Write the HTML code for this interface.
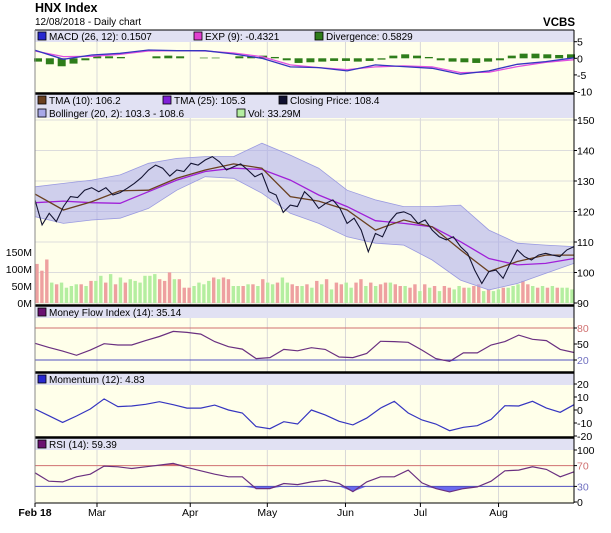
<!DOCTYPE html>
<html><head><meta charset="utf-8"><style>
body{margin:0;background:#fff;}
svg{display:block;font-family:"Liberation Sans",sans-serif;}
</style></head><body>
<svg id="c" width="611" height="533" viewBox="0 0 611 533" xmlns="http://www.w3.org/2000/svg">
<text x="35" y="12" font-size="12.5" font-weight="bold" fill="#000">HNX Index</text>
<text x="35" y="25" font-size="10" fill="#000">12/08/2018 - Daily chart</text>
<text x="575" y="26" font-size="11.5" font-weight="bold" text-anchor="end" fill="#000">VCBS</text>
<g id="g"></g>
</svg>
<script>
// ---- data ----
const closePrice=[123.8,115.6,119.4,116.7,121.6,124.9,124.6,127,127.8,126.5,127.8,125.4,126.2,127.6,129.2,131.1,133.6,135.2,134.2,131.6,133.6,133.1,135.8,135.2,136.9,138,136.3,133.6,134.7,135.6,133.6,131.4,132.5,126.5,125.4,119.7,122.1,121.6,126.5,124.3,121,122.7,123.8,121,116.1,117.8,113.9,106.8,112.8,111.7,116.7,119.4,119.9,118.9,116.1,117.2,113.9,111.7,110.7,111.7,108.5,106.3,100.8,96.4,100.3,100.8,98.1,103,107.4,105.2,104.1,105.7,106.3,105.7,105.2,107.4,108.5];
const tma25=[122.9,123.4,122.9,122.7,126.5,130.3,133.1,134.2,133.8,130.3,125.4,121.6,117,116.1,115,110.1,104.6,102.5,103,104.6];
const tma10=[125.7,120.5,123.2,126.8,127,130.9,133.6,135.6,134.2,124.9,123.4,120.5,113.9,117.2,115,107.4,100.3,103.6,105.7,105.7];
const bollUpper=[128.1,129.2,130.3,132,135.8,137.4,138,138,142.4,138.5,134.2,127,123.8,121.6,121.6,122.1,113.9,109.6,109,108.5];
const bollLower=[118.3,116.1,117.2,117.8,121,127,131.4,130.9,126,119.4,116.1,111.7,109.6,109,104.1,97.5,94.3,96.4,99.7,103];
const volume=[115,95,128,60,55,60,45,50,55,55,50,65,65,80,60,85,55,75,60,70,65,60,80,80,85,70,65,90,70,70,45,45,50,60,55,65,75,70,75,70,50,50,50,55,55,50,70,60,55,60,75,60,55,50,50,55,45,65,55,70,40,60,55,60,45,60,70,50,60,50,55,60,60,55,50,50,45,55,35,55,45,50,35,50,45,40,50,45,45,50,55,35,40,35,40,45,45,50,55,65,55,50,45,50,45,50,45,45,45,40];
const volUp=[0,0,0,1,0,1,1,1,1,0,1,0,1,1,0,1,0,1,0,1,1,1,1,1,1,0,0,0,1,0,0,0,1,1,1,1,0,1,0,0,1,1,0,1,0,1,0,1,1,0,1,1,0,0,1,0,1,0,1,0,1,0,0,1,1,0,0,1,0,1,0,0,1,0,0,1,0,0,1,0,1,0,1,0,0,1,1,0,1,0,0,1,0,1,1,0,1,1,1,0,0,1,0,1,0,1,0,1,1,1];
const macd=[2.4,-0.3,1,1.5,2.5,2.3,2.3,1.3,0,-2.6,-2.8,-3.8,-2,-2.5,-3,-4.8,-3.8,-1.8,-1,0.15];
const expLine=[2.2,0.5,0.6,1.2,2.2,2.3,2.2,1.6,0.5,-2,-2.8,-3.4,-2.6,-2.3,-2.6,-4.3,-4.2,-2.5,-1.2,-0.43];
const divergence=[-1,-1.8,-2.4,-1.6,-0.6,0.6,0.6,0.4,0,0,0.6,0.8,0.6,0,0.2,0.2,0,0.6,0.6,0.8,0.4,-0.6,-1.4,-1.2,-1,-0.8,-0.8,-1,-0.8,-0.4,0.8,1.2,0.8,0.4,-0.6,-1,-1.2,-1.4,-1,-0.6,0.8,1.4,1.4,1.2,1,1.2];
const mfi=[51.3,43.6,36.6,28.9,38.5,50.6,48.1,48.1,56.4,64,73.6,71.7,68.5,54.5,44.9,40.4,22.6,24.5,39.8,37.2,43,39.8,25.7,24.5,32.1,55.1,54.5,53.2,38.5,22.6,17.4,33.4,33.4,48.1,54.5,66.6,58.9,56.4,39.8,34];
const momentum=[0.8,-4.4,-9.5,-4.6,0.8,8.5,2.6,3.1,4.4,6.4,4.1,1.5,1.5,3.8,0,-2.3,-12.8,-14.4,-9,-10.8,0,-3.8,-8.7,-11.5,-6.2,1.5,6.7,-2.3,-7.7,-10.8,-15.9,-13.3,-12.1,-7.2,3.3,3.1,6.7,1.5,-1.8,4.1];
const rsi=[56.1,40,38.7,48.4,53.5,69,67.7,64.5,67.7,71,74.2,66.5,60,53.5,48.4,48.4,25.8,25.8,35.5,33.5,38.7,41.9,35.5,20,38.7,48.4,48.4,61.3,36.8,25.8,19.4,25.8,29,40,60,61.3,67.7,62.6,48.4,58.1];
const monthLabels=["Feb 18","Mar","Apr","May","Jun","Jul","Aug"];
const monthPos=[0,0.115,0.288,0.431,0.576,0.715,0.860];
const macdTicks=[5,0,-5,-10];
const priceTicks=[150,140,130,120,110,100,90];
const volTicks=[150,100,50,0];
const momTicks=[20,10,0,-10,-20];

// ---- layout ----
const X0=35,X1=574,W=X1-X0;
const NS="http://www.w3.org/2000/svg";
const g=document.getElementById('g');
function mk(tag,attrs,parent){const e=document.createElementNS(NS,tag);for(const k in attrs)e.setAttribute(k,attrs[k]);(parent||g).appendChild(e);return e;}
function xi(i,n){return X0+i*W/(n-1);}
function lin(d0,d1,r0,r1){return v=>r0+(v-d0)*(r1-r0)/(d1-d0);}
function pts(arr,ys){return arr.map((v,i)=>xi(i,arr.length).toFixed(1)+','+ys(v).toFixed(1)).join(' ');}

const panels=[
 {name:'macd',top:30,leg:42,bot:93},
 {name:'price',top:94,leg:118,bot:305},
 {name:'mfi',top:306,leg:318,bot:372},
 {name:'momentum',top:373,leg:385,bot:437},
 {name:'rsi',top:438,leg:450,bot:503}
];
panels.forEach(p=>{
 const r1=mk('rect',{x:X0,y:p.top,width:W,height:p.leg-p.top,fill:'#e1e1f3'});
 
 
 const r2=mk('rect',{x:X0,y:p.leg,width:W,height:p.bot-p.leg,fill:'#ffffea'});
 
 
 monthPos.forEach((m,i)=>{ if(i>0){const l=mk('line',{x1:X0+m*W,x2:X0+m*W,y1:p.leg,y2:p.bot,stroke:'#d8d8d8','stroke-width':1});
 
 }});
});

function axisLabels(ticks,ys,color,anchorX){
 ticks.forEach(t=>{const tx=mk('text',{x:anchorX,y:ys(t)+4,'font-size':10.5,fill:color||'#000'});tx.textContent=t;
 
 
 const tk=mk('line',{x1:X1,x2:X1+3,y1:ys(t),y2:ys(t),stroke:'#000'});
 
 });
}
function legend(items,y){
 items.forEach(it=>{const s=mk('rect',{x:it[0],y:y-8,width:8,height:8,fill:it[1],stroke:'#000','stroke-width':0.8});
 
 
 const t=mk('text',{x:it[0]+11,y:y,'font-size':10,fill:'#000'});t.textContent=it[2];
 
 });
}

// MACD
const yM=lin(0,5,58.3,41.7);
divergence.forEach((v,i)=>{ if(v===0)return; const x=X0+3+i*(W-6)/(divergence.length-1);
 const b=mk('rect',{x:x-4,y:Math.min(yM(0),yM(v)),width:8,height:Math.abs(yM(v)-yM(0)),fill:'#2e7d1a'});
 
 });
let e=mk('polyline',{points:pts(expLine,yM),fill:'none',stroke:'#e050e0','stroke-width':1.3});

e=mk('polyline',{points:pts(macd,yM),fill:'none',stroke:'#3535c0','stroke-width':1.3});

legend([[38,'#2828d0','MACD (26, 12): 0.1507'],[194,'#e040d0','EXP (9): -0.4321'],[315,'#2e7d1a','Divergence: 0.5829']],40);
axisLabels(macdTicks,yM,'#000',577);

// Price
const yP=lin(90,150,303,120);
for(const t of priceTicks){const l=mk('line',{x1:X0,x2:X1,y1:yP(t),y2:yP(t),stroke:'#dcdcdc'});}
const yV=lin(0,150,303,252);
volume.forEach((v,i)=>{const x=X0+2+i*(W-4)/(volume.length-1);
 const b=mk('rect',{x:x-1.7,y:yV(v),width:3.4,height:yV(0)-yV(v),fill:volUp[i]?'#b4eea0':'#eea0a0'});
 
 });
const band=bollUpper.map((v,i)=>xi(i,bollUpper.length).toFixed(1)+','+yP(v).toFixed(1)).concat(bollLower.map((v,i)=>xi(i,bollLower.length).toFixed(1)+','+yP(v).toFixed(1)).reverse()).join(' ');
e=mk('polygon',{points:band,fill:'#a8a8ec','fill-opacity':0.55,stroke:'#9a9ae0','stroke-width':0.8});

e=mk('polyline',{points:pts(tma25,yP),fill:'none',stroke:'#a020d8','stroke-width':1.3});

e=mk('polyline',{points:pts(tma10,yP),fill:'none',stroke:'#6a4020','stroke-width':1.3});

e=mk('polyline',{points:pts(closePrice,yP),fill:'none',stroke:'#141432','stroke-width':1.1});

legend([[38,'#6a4020','TMA (10): 106.2'],[163,'#8020d8','TMA (25): 105.3'],[279,'#101030','Closing Price: 108.4']],104);
legend([[38,'#a8a8e8','Bollinger (20, 2): 103.3 - 108.6'],[237,'#b4eea0','Vol: 33.29M']],117);
axisLabels(priceTicks,yP,'#000',577);
volTicks.forEach(t=>{const tx=mk('text',{x:32,y:yV(t)+4,'font-size':10.5,'text-anchor':'end'});tx.textContent=t+'M';
 });

// MFI
const yF=lin(20,80,360,328);
const lowF=mfi.map((v,i)=>xi(i,mfi.length).toFixed(1)+','+yF(Math.min(v,20)).toFixed(1));
lowF.push(X1+','+yF(20),X0+','+yF(20));
e=mk('polygon',{points:lowF.join(' '),fill:'#6a6aee'});

e=mk('line',{x1:X0,x2:X1,y1:yF(80),y2:yF(80),stroke:'#d07070'});

e=mk('line',{x1:X0,x2:X1,y1:yF(20),y2:yF(20),stroke:'#5050c0'});

e=mk('polyline',{points:pts(mfi,yF),fill:'none',stroke:'#6a3080','stroke-width':1.2});

legend([[38,'#6a1070','Money Flow Index (14): 35.14']],316);
axisLabels([80],yF,'#d07070',577);axisLabels([50],yF,'#000',577);axisLabels([20],yF,'#7070c0',577);

// Momentum
const yMo=lin(-20,20,436,384);
e=mk('polyline',{points:pts(momentum,yMo),fill:'none',stroke:'#3535c0','stroke-width':1.2});

legend([[38,'#2828d0','Momentum (12): 4.83']],383);
axisLabels(momTicks,yMo,'#000',577);

// RSI
const yR=lin(0,100,502,450);
const lowPoly=rsi.map((v,i)=>xi(i,rsi.length).toFixed(1)+','+yR(Math.min(v,30)).toFixed(1));
lowPoly.push(X1+','+yR(30),X0+','+yR(30));
e=mk('polygon',{points:lowPoly.join(' '),fill:'#6a6aee'});

const hiPoly=rsi.map((v,i)=>xi(i,rsi.length).toFixed(1)+','+yR(Math.max(v,70)).toFixed(1));
hiPoly.push(X1+','+yR(70),X0+','+yR(70));
e=mk('polygon',{points:hiPoly.join(' '),fill:'#e07070'});

e=mk('line',{x1:X0,x2:X1,y1:yR(70),y2:yR(70),stroke:'#d07070'});

e=mk('line',{x1:X0,x2:X1,y1:yR(30),y2:yR(30),stroke:'#5050c0'});

e=mk('polyline',{points:pts(rsi,yR),fill:'none',stroke:'#6a3080','stroke-width':1.2});

legend([[38,'#6a1070','RSI (14): 59.39']],448);
axisLabels([100],yR,'#000',577);axisLabels([70],yR,'#d07070',577);axisLabels([30],yR,'#7070c0',577);axisLabels([0],yR,'#000',577);

// borders
[30,93.5,305.5,372.5,437.5].forEach(y=>{const l=mk('line',{x1:X0,x2:X1,y1:y,y2:y,stroke:'#000','stroke-width':y===30?1:2.5});
 });
e=mk('line',{x1:X0,x2:X1,y1:503,y2:503,stroke:'#000'});

e=mk('line',{x1:X0,x2:X0,y1:30,y2:503,stroke:'#888'});

e=mk('line',{x1:X1,x2:X1,y1:30,y2:503,stroke:'#000'});


// x labels
monthLabels.forEach((m,i)=>{const t=mk('text',{x:X0+monthPos[i]*W,y:516,'font-size':10.5,'text-anchor':'middle','font-weight':i===0?'bold':'normal'});
 t.textContent=m;
 
 
 const tk=mk('line',{x1:X0+monthPos[i]*W,x2:X0+monthPos[i]*W,y1:503,y2:507,stroke:'#000'});
 });
</script>
</body></html>
